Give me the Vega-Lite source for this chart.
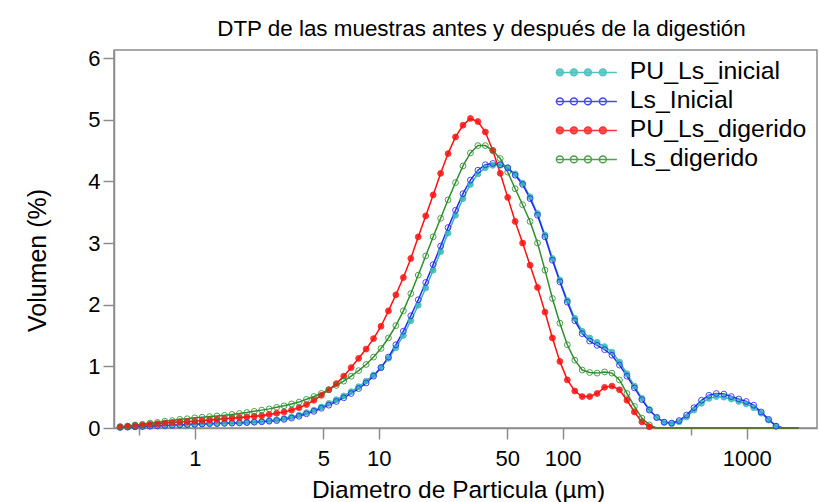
{
  "$schema": "https://vega.github.io/schema/vega-lite/v6.json",
  "autosize": {"type": "none"},
  "padding": {"left": 114, "top": 50, "right": 3, "bottom": 74},
  "width": 703,
  "height": 378,
  "background": "white",
  "title": {"text": "DTP de las muestras antes y después de la digestión", "font": "Liberation Sans", "fontSize": 22.4, "fontWeight": "normal", "color": "#000000", "anchor": "middle", "dx": 16, "offset": 7},
  "config": {
    "view": {"stroke": "#8c8c8c", "strokeWidth": 1.5},
    "font": "Liberation Sans"
  },
  "data": {"values": [
{"s":"PU_Ls_inicial","d":0.393,"v":0.01},{"s":"PU_Ls_inicial","d":0.432,"v":0.015},{"s":"PU_Ls_inicial","d":0.474,"v":0.02},{"s":"PU_Ls_inicial","d":0.520,"v":0.025},{"s":"PU_Ls_inicial","d":0.571,"v":0.03},{"s":"PU_Ls_inicial","d":0.627,"v":0.035},{"s":"PU_Ls_inicial","d":0.688,"v":0.04},{"s":"PU_Ls_inicial","d":0.755,"v":0.045},{"s":"PU_Ls_inicial","d":0.829,"v":0.05},{"s":"PU_Ls_inicial","d":0.910,"v":0.055},
{"s":"PU_Ls_inicial","d":0.999,"v":0.06},{"s":"PU_Ls_inicial","d":1.097,"v":0.065},{"s":"PU_Ls_inicial","d":1.204,"v":0.07},{"s":"PU_Ls_inicial","d":1.321,"v":0.075},{"s":"PU_Ls_inicial","d":1.451,"v":0.08},{"s":"PU_Ls_inicial","d":1.593,"v":0.085},{"s":"PU_Ls_inicial","d":1.749,"v":0.09},{"s":"PU_Ls_inicial","d":1.919,"v":0.095},{"s":"PU_Ls_inicial","d":2.106,"v":0.10},{"s":"PU_Ls_inicial","d":2.312,"v":0.11},
{"s":"PU_Ls_inicial","d":2.539,"v":0.12},{"s":"PU_Ls_inicial","d":2.787,"v":0.135},{"s":"PU_Ls_inicial","d":3.059,"v":0.155},{"s":"PU_Ls_inicial","d":3.359,"v":0.18},{"s":"PU_Ls_inicial","d":3.687,"v":0.21},{"s":"PU_Ls_inicial","d":4.047,"v":0.25},{"s":"PU_Ls_inicial","d":4.443,"v":0.29},{"s":"PU_Ls_inicial","d":4.878,"v":0.34},{"s":"PU_Ls_inicial","d":5.355,"v":0.40},{"s":"PU_Ls_inicial","d":5.879,"v":0.46},
{"s":"PU_Ls_inicial","d":6.453,"v":0.52},{"s":"PU_Ls_inicial","d":7.084,"v":0.59},{"s":"PU_Ls_inicial","d":7.776,"v":0.67},{"s":"PU_Ls_inicial","d":8.537,"v":0.76},{"s":"PU_Ls_inicial","d":9.371,"v":0.86},{"s":"PU_Ls_inicial","d":10.29,"v":0.98},{"s":"PU_Ls_inicial","d":11.29,"v":1.13},{"s":"PU_Ls_inicial","d":12.39,"v":1.30},{"s":"PU_Ls_inicial","d":13.61,"v":1.50},{"s":"PU_Ls_inicial","d":14.94,"v":1.74},
{"s":"PU_Ls_inicial","d":16.40,"v":1.99},{"s":"PU_Ls_inicial","d":18.00,"v":2.27},{"s":"PU_Ls_inicial","d":19.76,"v":2.56},{"s":"PU_Ls_inicial","d":21.70,"v":2.86},{"s":"PU_Ls_inicial","d":23.81,"v":3.16},{"s":"PU_Ls_inicial","d":26.14,"v":3.45},{"s":"PU_Ls_inicial","d":28.70,"v":3.72},{"s":"PU_Ls_inicial","d":31.50,"v":3.95},{"s":"PU_Ls_inicial","d":34.59,"v":4.12},{"s":"PU_Ls_inicial","d":37.97,"v":4.22},
{"s":"PU_Ls_inicial","d":41.68,"v":4.26},{"s":"PU_Ls_inicial","d":45.75,"v":4.26},{"s":"PU_Ls_inicial","d":50.23,"v":4.22},{"s":"PU_Ls_inicial","d":55.14,"v":4.12},{"s":"PU_Ls_inicial","d":60.53,"v":3.97},{"s":"PU_Ls_inicial","d":66.45,"v":3.75},{"s":"PU_Ls_inicial","d":72.94,"v":3.48},{"s":"PU_Ls_inicial","d":80.08,"v":3.13},{"s":"PU_Ls_inicial","d":87.90,"v":2.75},{"s":"PU_Ls_inicial","d":96.49,"v":2.40},
{"s":"PU_Ls_inicial","d":105.9,"v":2.07},{"s":"PU_Ls_inicial","d":116.3,"v":1.78},{"s":"PU_Ls_inicial","d":127.6,"v":1.57},{"s":"PU_Ls_inicial","d":140.1,"v":1.46},{"s":"PU_Ls_inicial","d":153.8,"v":1.39},{"s":"PU_Ls_inicial","d":168.9,"v":1.32},{"s":"PU_Ls_inicial","d":185.2,"v":1.23},{"s":"PU_Ls_inicial","d":203.5,"v":1.07},{"s":"PU_Ls_inicial","d":223.4,"v":0.88},{"s":"PU_Ls_inicial","d":245.3,"v":0.68},
{"s":"PU_Ls_inicial","d":269.2,"v":0.48},{"s":"PU_Ls_inicial","d":295.6,"v":0.30},{"s":"PU_Ls_inicial","d":324.4,"v":0.17},{"s":"PU_Ls_inicial","d":356.1,"v":0.09},{"s":"PU_Ls_inicial","d":390.9,"v":0.07},{"s":"PU_Ls_inicial","d":429.1,"v":0.10},{"s":"PU_Ls_inicial","d":471.2,"v":0.18},{"s":"PU_Ls_inicial","d":517.2,"v":0.29},{"s":"PU_Ls_inicial","d":567.8,"v":0.40},{"s":"PU_Ls_inicial","d":623.3,"v":0.48},
{"s":"PU_Ls_inicial","d":684.2,"v":0.51},{"s":"PU_Ls_inicial","d":751.1,"v":0.50},{"s":"PU_Ls_inicial","d":824.5,"v":0.47},{"s":"PU_Ls_inicial","d":905.1,"v":0.43},{"s":"PU_Ls_inicial","d":993.5,"v":0.39},{"s":"PU_Ls_inicial","d":1091,"v":0.33},{"s":"PU_Ls_inicial","d":1198,"v":0.24},{"s":"PU_Ls_inicial","d":1315,"v":0.13},{"s":"PU_Ls_inicial","d":1443,"v":0.03},{"s":"PU_Ls_inicial","d":1584,"v":0},
{"s":"PU_Ls_inicial","d":1739,"v":0},{"s":"PU_Ls_inicial","d":1909,"v":0},

{"s":"Ls_Inicial","d":0.393,"v":0.01},{"s":"Ls_Inicial","d":0.432,"v":0.015},{"s":"Ls_Inicial","d":0.474,"v":0.02},{"s":"Ls_Inicial","d":0.520,"v":0.025},{"s":"Ls_Inicial","d":0.571,"v":0.03},{"s":"Ls_Inicial","d":0.627,"v":0.035},{"s":"Ls_Inicial","d":0.688,"v":0.04},{"s":"Ls_Inicial","d":0.755,"v":0.045},{"s":"Ls_Inicial","d":0.829,"v":0.05},{"s":"Ls_Inicial","d":0.910,"v":0.055},
{"s":"Ls_Inicial","d":0.999,"v":0.06},{"s":"Ls_Inicial","d":1.097,"v":0.065},{"s":"Ls_Inicial","d":1.204,"v":0.07},{"s":"Ls_Inicial","d":1.321,"v":0.072},{"s":"Ls_Inicial","d":1.451,"v":0.075},{"s":"Ls_Inicial","d":1.593,"v":0.078},{"s":"Ls_Inicial","d":1.749,"v":0.082},{"s":"Ls_Inicial","d":1.919,"v":0.087},{"s":"Ls_Inicial","d":2.106,"v":0.093},{"s":"Ls_Inicial","d":2.312,"v":0.10},
{"s":"Ls_Inicial","d":2.539,"v":0.11},{"s":"Ls_Inicial","d":2.787,"v":0.12},{"s":"Ls_Inicial","d":3.059,"v":0.14},{"s":"Ls_Inicial","d":3.359,"v":0.16},{"s":"Ls_Inicial","d":3.687,"v":0.19},{"s":"Ls_Inicial","d":4.047,"v":0.23},{"s":"Ls_Inicial","d":4.443,"v":0.27},{"s":"Ls_Inicial","d":4.878,"v":0.32},{"s":"Ls_Inicial","d":5.355,"v":0.37},{"s":"Ls_Inicial","d":5.879,"v":0.43},
{"s":"Ls_Inicial","d":6.453,"v":0.49},{"s":"Ls_Inicial","d":7.084,"v":0.56},{"s":"Ls_Inicial","d":7.776,"v":0.64},{"s":"Ls_Inicial","d":8.537,"v":0.73},{"s":"Ls_Inicial","d":9.371,"v":0.84},{"s":"Ls_Inicial","d":10.29,"v":0.98},{"s":"Ls_Inicial","d":11.29,"v":1.15},{"s":"Ls_Inicial","d":12.39,"v":1.35},{"s":"Ls_Inicial","d":13.61,"v":1.57},{"s":"Ls_Inicial","d":14.94,"v":1.82},
{"s":"Ls_Inicial","d":16.40,"v":2.08},{"s":"Ls_Inicial","d":18.00,"v":2.36},{"s":"Ls_Inicial","d":19.76,"v":2.65},{"s":"Ls_Inicial","d":21.70,"v":2.95},{"s":"Ls_Inicial","d":23.81,"v":3.25},{"s":"Ls_Inicial","d":26.14,"v":3.53},{"s":"Ls_Inicial","d":28.70,"v":3.80},{"s":"Ls_Inicial","d":31.50,"v":4.02},{"s":"Ls_Inicial","d":34.59,"v":4.18},{"s":"Ls_Inicial","d":37.97,"v":4.27},
{"s":"Ls_Inicial","d":41.68,"v":4.29},{"s":"Ls_Inicial","d":45.75,"v":4.27},{"s":"Ls_Inicial","d":50.23,"v":4.22},{"s":"Ls_Inicial","d":55.14,"v":4.10},{"s":"Ls_Inicial","d":60.53,"v":3.95},{"s":"Ls_Inicial","d":66.45,"v":3.72},{"s":"Ls_Inicial","d":72.94,"v":3.45},{"s":"Ls_Inicial","d":80.08,"v":3.10},{"s":"Ls_Inicial","d":87.90,"v":2.72},{"s":"Ls_Inicial","d":96.49,"v":2.37},
{"s":"Ls_Inicial","d":105.9,"v":2.04},{"s":"Ls_Inicial","d":116.3,"v":1.74},{"s":"Ls_Inicial","d":127.6,"v":1.53},{"s":"Ls_Inicial","d":140.1,"v":1.41},{"s":"Ls_Inicial","d":153.8,"v":1.34},{"s":"Ls_Inicial","d":168.9,"v":1.27},{"s":"Ls_Inicial","d":185.2,"v":1.18},{"s":"Ls_Inicial","d":203.5,"v":1.02},{"s":"Ls_Inicial","d":223.4,"v":0.84},{"s":"Ls_Inicial","d":245.3,"v":0.65},
{"s":"Ls_Inicial","d":269.2,"v":0.46},{"s":"Ls_Inicial","d":295.6,"v":0.29},{"s":"Ls_Inicial","d":324.4,"v":0.17},{"s":"Ls_Inicial","d":356.1,"v":0.095},{"s":"Ls_Inicial","d":390.9,"v":0.08},{"s":"Ls_Inicial","d":429.1,"v":0.12},{"s":"Ls_Inicial","d":471.2,"v":0.21},{"s":"Ls_Inicial","d":517.2,"v":0.33},{"s":"Ls_Inicial","d":567.8,"v":0.45},{"s":"Ls_Inicial","d":623.3,"v":0.53},
{"s":"Ls_Inicial","d":684.2,"v":0.56},{"s":"Ls_Inicial","d":751.1,"v":0.55},{"s":"Ls_Inicial","d":824.5,"v":0.51},{"s":"Ls_Inicial","d":905.1,"v":0.47},{"s":"Ls_Inicial","d":993.5,"v":0.43},{"s":"Ls_Inicial","d":1091,"v":0.37},{"s":"Ls_Inicial","d":1198,"v":0.26},{"s":"Ls_Inicial","d":1315,"v":0.14},{"s":"Ls_Inicial","d":1443,"v":0.03},{"s":"Ls_Inicial","d":1584,"v":0},
{"s":"Ls_Inicial","d":1739,"v":0},{"s":"Ls_Inicial","d":1909,"v":0},

{"s":"PU_Ls_digerido","d":0.393,"v":0.02},{"s":"PU_Ls_digerido","d":0.432,"v":0.03},{"s":"PU_Ls_digerido","d":0.474,"v":0.04},{"s":"PU_Ls_digerido","d":0.520,"v":0.05},{"s":"PU_Ls_digerido","d":0.571,"v":0.06},{"s":"PU_Ls_digerido","d":0.627,"v":0.07},{"s":"PU_Ls_digerido","d":0.688,"v":0.08},{"s":"PU_Ls_digerido","d":0.755,"v":0.09},{"s":"PU_Ls_digerido","d":0.829,"v":0.10},{"s":"PU_Ls_digerido","d":0.910,"v":0.105},
{"s":"PU_Ls_digerido","d":0.999,"v":0.11},{"s":"PU_Ls_digerido","d":1.097,"v":0.12},{"s":"PU_Ls_digerido","d":1.204,"v":0.13},{"s":"PU_Ls_digerido","d":1.321,"v":0.14},{"s":"PU_Ls_digerido","d":1.451,"v":0.15},{"s":"PU_Ls_digerido","d":1.593,"v":0.16},{"s":"PU_Ls_digerido","d":1.749,"v":0.17},{"s":"PU_Ls_digerido","d":1.919,"v":0.18},{"s":"PU_Ls_digerido","d":2.106,"v":0.19},{"s":"PU_Ls_digerido","d":2.312,"v":0.20},
{"s":"PU_Ls_digerido","d":2.539,"v":0.22},{"s":"PU_Ls_digerido","d":2.787,"v":0.24},{"s":"PU_Ls_digerido","d":3.059,"v":0.26},{"s":"PU_Ls_digerido","d":3.359,"v":0.29},{"s":"PU_Ls_digerido","d":3.687,"v":0.33},{"s":"PU_Ls_digerido","d":4.047,"v":0.38},{"s":"PU_Ls_digerido","d":4.443,"v":0.45},{"s":"PU_Ls_digerido","d":4.878,"v":0.53},{"s":"PU_Ls_digerido","d":5.355,"v":0.62},{"s":"PU_Ls_digerido","d":5.879,"v":0.72},
{"s":"PU_Ls_digerido","d":6.453,"v":0.84},{"s":"PU_Ls_digerido","d":7.084,"v":0.98},{"s":"PU_Ls_digerido","d":7.776,"v":1.13},{"s":"PU_Ls_digerido","d":8.537,"v":1.28},{"s":"PU_Ls_digerido","d":9.371,"v":1.45},{"s":"PU_Ls_digerido","d":10.29,"v":1.65},{"s":"PU_Ls_digerido","d":11.29,"v":1.90},{"s":"PU_Ls_digerido","d":12.39,"v":2.16},{"s":"PU_Ls_digerido","d":13.61,"v":2.44},{"s":"PU_Ls_digerido","d":14.94,"v":2.75},
{"s":"PU_Ls_digerido","d":16.40,"v":3.10},{"s":"PU_Ls_digerido","d":18.00,"v":3.44},{"s":"PU_Ls_digerido","d":19.76,"v":3.78},{"s":"PU_Ls_digerido","d":21.70,"v":4.13},{"s":"PU_Ls_digerido","d":23.81,"v":4.45},{"s":"PU_Ls_digerido","d":26.14,"v":4.72},{"s":"PU_Ls_digerido","d":28.70,"v":4.91},{"s":"PU_Ls_digerido","d":31.50,"v":5.02},{"s":"PU_Ls_digerido","d":34.59,"v":4.97},{"s":"PU_Ls_digerido","d":37.97,"v":4.80},
{"s":"PU_Ls_digerido","d":41.68,"v":4.50},{"s":"PU_Ls_digerido","d":45.75,"v":4.13},{"s":"PU_Ls_digerido","d":50.23,"v":3.74},{"s":"PU_Ls_digerido","d":55.14,"v":3.35},{"s":"PU_Ls_digerido","d":60.53,"v":3.00},{"s":"PU_Ls_digerido","d":66.45,"v":2.64},{"s":"PU_Ls_digerido","d":72.94,"v":2.28},{"s":"PU_Ls_digerido","d":80.08,"v":1.88},{"s":"PU_Ls_digerido","d":87.90,"v":1.46},{"s":"PU_Ls_digerido","d":96.49,"v":1.08},
{"s":"PU_Ls_digerido","d":105.9,"v":0.78},{"s":"PU_Ls_digerido","d":116.3,"v":0.60},{"s":"PU_Ls_digerido","d":127.6,"v":0.51},{"s":"PU_Ls_digerido","d":140.1,"v":0.51},{"s":"PU_Ls_digerido","d":153.8,"v":0.56},{"s":"PU_Ls_digerido","d":168.9,"v":0.66},{"s":"PU_Ls_digerido","d":185.2,"v":0.68},{"s":"PU_Ls_digerido","d":203.5,"v":0.62},{"s":"PU_Ls_digerido","d":223.4,"v":0.45},{"s":"PU_Ls_digerido","d":245.3,"v":0.26},
{"s":"PU_Ls_digerido","d":269.2,"v":0.10},{"s":"PU_Ls_digerido","d":295.6,"v":0.02},{"s":"PU_Ls_digerido","d":324.4,"v":0},{"s":"PU_Ls_digerido","d":356.1,"v":0},{"s":"PU_Ls_digerido","d":390.9,"v":0},{"s":"PU_Ls_digerido","d":429.1,"v":0},{"s":"PU_Ls_digerido","d":471.2,"v":0},{"s":"PU_Ls_digerido","d":517.2,"v":0},{"s":"PU_Ls_digerido","d":567.8,"v":0},{"s":"PU_Ls_digerido","d":623.3,"v":0},
{"s":"PU_Ls_digerido","d":684.2,"v":0},{"s":"PU_Ls_digerido","d":751.1,"v":0},{"s":"PU_Ls_digerido","d":824.5,"v":0},{"s":"PU_Ls_digerido","d":905.1,"v":0},{"s":"PU_Ls_digerido","d":993.5,"v":0},{"s":"PU_Ls_digerido","d":1091,"v":0},{"s":"PU_Ls_digerido","d":1198,"v":0},{"s":"PU_Ls_digerido","d":1315,"v":0},{"s":"PU_Ls_digerido","d":1443,"v":0},{"s":"PU_Ls_digerido","d":1584,"v":0},
{"s":"PU_Ls_digerido","d":1739,"v":0},{"s":"PU_Ls_digerido","d":1909,"v":0},

{"s":"Ls_digerido","d":0.393,"v":0.02},{"s":"Ls_digerido","d":0.432,"v":0.03},{"s":"Ls_digerido","d":0.474,"v":0.05},{"s":"Ls_digerido","d":0.520,"v":0.06},{"s":"Ls_digerido","d":0.571,"v":0.08},{"s":"Ls_digerido","d":0.627,"v":0.09},{"s":"Ls_digerido","d":0.688,"v":0.11},{"s":"Ls_digerido","d":0.755,"v":0.12},{"s":"Ls_digerido","d":0.829,"v":0.14},{"s":"Ls_digerido","d":0.910,"v":0.15},
{"s":"Ls_digerido","d":0.999,"v":0.165},{"s":"Ls_digerido","d":1.097,"v":0.175},{"s":"Ls_digerido","d":1.204,"v":0.185},{"s":"Ls_digerido","d":1.321,"v":0.195},{"s":"Ls_digerido","d":1.451,"v":0.205},{"s":"Ls_digerido","d":1.593,"v":0.22},{"s":"Ls_digerido","d":1.749,"v":0.235},{"s":"Ls_digerido","d":1.919,"v":0.25},{"s":"Ls_digerido","d":2.106,"v":0.27},{"s":"Ls_digerido","d":2.312,"v":0.29},
{"s":"Ls_digerido","d":2.539,"v":0.31},{"s":"Ls_digerido","d":2.787,"v":0.335},{"s":"Ls_digerido","d":3.059,"v":0.36},{"s":"Ls_digerido","d":3.359,"v":0.39},{"s":"Ls_digerido","d":3.687,"v":0.42},{"s":"Ls_digerido","d":4.047,"v":0.465},{"s":"Ls_digerido","d":4.443,"v":0.51},{"s":"Ls_digerido","d":4.878,"v":0.56},{"s":"Ls_digerido","d":5.355,"v":0.62},{"s":"Ls_digerido","d":5.879,"v":0.69},
{"s":"Ls_digerido","d":6.453,"v":0.76},{"s":"Ls_digerido","d":7.084,"v":0.84},{"s":"Ls_digerido","d":7.776,"v":0.93},{"s":"Ls_digerido","d":8.537,"v":1.03},{"s":"Ls_digerido","d":9.371,"v":1.15},{"s":"Ls_digerido","d":10.29,"v":1.29},{"s":"Ls_digerido","d":11.29,"v":1.46},{"s":"Ls_digerido","d":12.39,"v":1.66},{"s":"Ls_digerido","d":13.61,"v":1.90},{"s":"Ls_digerido","d":14.94,"v":2.18},
{"s":"Ls_digerido","d":16.40,"v":2.48},{"s":"Ls_digerido","d":18.00,"v":2.79},{"s":"Ls_digerido","d":19.76,"v":3.10},{"s":"Ls_digerido","d":21.70,"v":3.40},{"s":"Ls_digerido","d":23.81,"v":3.70},{"s":"Ls_digerido","d":26.14,"v":3.98},{"s":"Ls_digerido","d":28.70,"v":4.25},{"s":"Ls_digerido","d":31.50,"v":4.46},{"s":"Ls_digerido","d":34.59,"v":4.58},{"s":"Ls_digerido","d":37.97,"v":4.58},
{"s":"Ls_digerido","d":41.68,"v":4.50},{"s":"Ls_digerido","d":45.75,"v":4.37},{"s":"Ls_digerido","d":50.23,"v":4.15},{"s":"Ls_digerido","d":55.14,"v":3.88},{"s":"Ls_digerido","d":60.53,"v":3.62},{"s":"Ls_digerido","d":66.45,"v":3.35},{"s":"Ls_digerido","d":72.94,"v":3.00},{"s":"Ls_digerido","d":80.08,"v":2.56},{"s":"Ls_digerido","d":87.90,"v":2.10},{"s":"Ls_digerido","d":96.49,"v":1.70},
{"s":"Ls_digerido","d":105.9,"v":1.35},{"s":"Ls_digerido","d":116.3,"v":1.10},{"s":"Ls_digerido","d":127.6,"v":0.94},{"s":"Ls_digerido","d":140.1,"v":0.90},{"s":"Ls_digerido","d":153.8,"v":0.89},{"s":"Ls_digerido","d":168.9,"v":0.91},{"s":"Ls_digerido","d":185.2,"v":0.89},{"s":"Ls_digerido","d":203.5,"v":0.78},{"s":"Ls_digerido","d":223.4,"v":0.56},{"s":"Ls_digerido","d":245.3,"v":0.35},
{"s":"Ls_digerido","d":269.2,"v":0.16},{"s":"Ls_digerido","d":295.6,"v":0.05},{"s":"Ls_digerido","d":324.4,"v":0},{"s":"Ls_digerido","d":356.1,"v":0},{"s":"Ls_digerido","d":390.9,"v":0},{"s":"Ls_digerido","d":429.1,"v":0},{"s":"Ls_digerido","d":471.2,"v":0},{"s":"Ls_digerido","d":517.2,"v":0},{"s":"Ls_digerido","d":567.8,"v":0},{"s":"Ls_digerido","d":623.3,"v":0},
{"s":"Ls_digerido","d":684.2,"v":0},{"s":"Ls_digerido","d":751.1,"v":0},{"s":"Ls_digerido","d":824.5,"v":0},{"s":"Ls_digerido","d":905.1,"v":0},{"s":"Ls_digerido","d":993.5,"v":0},{"s":"Ls_digerido","d":1091,"v":0},{"s":"Ls_digerido","d":1198,"v":0},{"s":"Ls_digerido","d":1315,"v":0},{"s":"Ls_digerido","d":1443,"v":0},{"s":"Ls_digerido","d":1584,"v":0},
{"s":"Ls_digerido","d":1739,"v":0},{"s":"Ls_digerido","d":1909,"v":0}
  ]},
  "encoding": {
    "x": {"field": "d", "type": "quantitative",
      "scale": {"type": "log", "domain": [0.364, 2410], "nice": false},
      "axis": {"title": "Diametro de Particula (µm)", "values": [0.5, 1, 5, 10, 50, 100, 500, 1000],
        "labelExpr": "datum.value == 0.5 || datum.value == 500 ? '' : format(datum.value, 'd')",
        "grid": false, "domainColor": "#8c8c8c", "domainWidth": 1.5, "tickColor": "#8c8c8c", "tickWidth": 1.5,
        "tickSize": {"condition": {"test": "datum.value == 0.5 || datum.value == 500", "value": 7}, "value": 11},
        "labelFont": "Liberation Sans", "labelFontSize": 22, "labelColor": "#000000", "labelPadding": 9, "labelFlush": false, "labelOverlap": false,
        "titleFont": "Liberation Sans", "titleFontSize": 24.5, "titleFontWeight": "normal", "titleColor": "#000000", "titlePadding": 9, "titleX": 344}},
    "y": {"field": "v", "type": "quantitative",
      "scale": {"domain": [0, 6.13], "nice": false, "zero": false},
      "axis": {"title": "Volumen (%)", "values": [0, 1, 2, 3, 4, 5, 6], "grid": false,
        "domainColor": "#8c8c8c", "domainWidth": 1.5, "tickColor": "#8c8c8c", "tickWidth": 1.5, "tickSize": 11,
        "labelFont": "Liberation Sans", "labelFontSize": 22, "labelColor": "#000000", "labelPadding": 3,
        "titleFont": "Liberation Sans", "titleFontSize": 25, "titleFontWeight": "normal", "titleColor": "#000000", "titlePadding": 37, "titleY": 210}},
    "stroke": {"field": "s", "type": "nominal",
      "scale": {"domain": ["PU_Ls_inicial", "Ls_Inicial", "PU_Ls_digerido", "Ls_digerido"], "range": ["#36b8b8", "#2828f0", "#ff1010", "#2f8f2f"]},
      "legend": {"title": null, "orient": "top-right", "offset": 10,
        "symbolType": "M-3,0L3,0M-2.95,0a0.34,0.34 0 1,0 0.68,0a0.34,0.34 0 1,0 -0.68,0M-1.57,0a0.34,0.34 0 1,0 0.68,0a0.34,0.34 0 1,0 -0.68,0M-0.19,0a0.34,0.34 0 1,0 0.68,0a0.34,0.34 0 1,0 -0.68,0M1.28,0a0.34,0.34 0 1,0 0.68,0a0.34,0.34 0 1,0 -0.68,0",
        "symbolSize": 413, "symbolStrokeWidth": 1.5, "labelFont": "Liberation Sans", "labelFontSize": 24.8, "labelColor": "#000000", "labelOffset": 31, "rowPadding": 3, "labelLimit": 400}}
  },
  "layer": [
    {"mark": {"type": "line", "strokeWidth": 1.5}},
    {"mark": {"type": "point", "shape": "circle", "size": 34, "strokeWidth": 1, "filled": false, "opacity": 0.85},
     "transform": [{"filter": "datum.v > 0"}],
     "encoding": {
       "fill": {"field": "s", "type": "nominal",
         "scale": {"domain": ["PU_Ls_inicial", "Ls_Inicial", "PU_Ls_digerido", "Ls_digerido"], "range": ["#36b8b8", "transparent", "#ff1010", "transparent"]},
         "legend": {"title": null, "orient": "top-right", "offset": 10,
           "symbolType": "M-3,0L3,0M-2.95,0a0.34,0.34 0 1,0 0.68,0a0.34,0.34 0 1,0 -0.68,0M-1.57,0a0.34,0.34 0 1,0 0.68,0a0.34,0.34 0 1,0 -0.68,0M-0.19,0a0.34,0.34 0 1,0 0.68,0a0.34,0.34 0 1,0 -0.68,0M1.28,0a0.34,0.34 0 1,0 0.68,0a0.34,0.34 0 1,0 -0.68,0",
           "symbolSize": 413, "symbolStrokeWidth": 1.5, "labelFont": "Liberation Sans", "labelFontSize": 24.8, "labelColor": "#000000", "labelOffset": 31, "rowPadding": 3, "labelLimit": 400}}
     }}
  ]
}
